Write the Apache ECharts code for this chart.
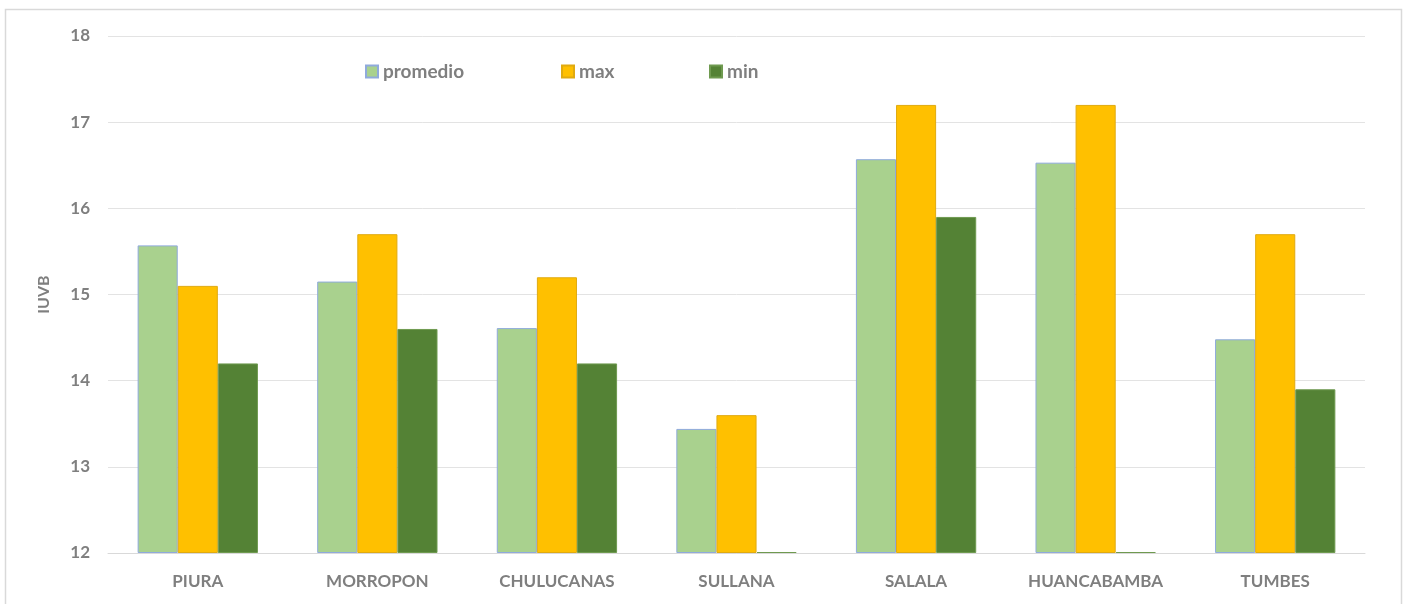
<!DOCTYPE html>
<html>
<head>
<meta charset="utf-8">
<script src="https://cdn.jsdelivr.net/npm/echarts@6/dist/echarts.min.js"></script>
<style>
  html, body { margin: 0; padding: 0; background: #ffffff; }
  #chart { width: 1411px; height: 604px; }
</style>
</head>
<body>
<div id="chart"></div>
<script>
// Stations and their UV-B index values
const categories = ['PIURA', 'MORROPON', 'CHULUCANAS', 'SULLANA', 'SALALA', 'HUANCABAMBA', 'TUMBES'];
const promedio = [15.57, 15.15, 14.61, 13.44, 16.57, 16.53, 14.48];
const maxVals  = [15.1, 15.7, 15.2, 13.6, 17.2, 17.2, 15.7];
const minVals  = [14.2, 14.6, 14.2, 12, 15.9, 12, 13.9];
const yTicks   = [12, 13, 14, 15, 16, 17, 18];

const yMin = yTicks[0];
const yMax = yTicks[yTicks.length - 1];

const textColor = '#7f7f7f';
const fontFamily = 'Lato, "Liberation Sans", sans-serif';

const chart = echarts.init(document.getElementById('chart'));

function legendAt(name, left) {
  return {
    data: [name],
    left: left,
    top: 57,
    icon: 'rect',
    itemWidth: 12,
    itemHeight: 12,
    itemGap: 0,
    textStyle: { color: textColor, fontSize: 19, fontWeight: 'bold', fontFamily: fontFamily, padding: [0, 0, 0, 0] },
    selectedMode: false
  };
}

// Bars rise from the bottom of the axis (yMin): each series sits on an
// invisible base of yMin in its own stack, so values at yMin show as a flat bar.
function barPair(name, values, fill, border) {
  const stack = 's_' + name;
  return [
    {
      name: '_base_' + name,
      type: 'bar',
      stack: stack,
      data: values.map(() => yMin),
      itemStyle: { color: 'rgba(0,0,0,0)' },
      silent: true,
      barGap: '0%',
      barCategoryGap: '33%'
    },
    {
      name: name,
      type: 'bar',
      stack: stack,
      data: values.map(v => +(v - yMin).toFixed(4)),
      barMinHeight: 1,
      clip: false,
      itemStyle: { color: fill, borderColor: border, borderWidth: 1 }
    }
  ];
}

chart.setOption({
  animation: false,
  backgroundColor: '#ffffff',
  graphic: [{
    type: 'rect',
    shape: { x: 5.5, y: 9.5, width: 1396, height: 620 },
    style: { fill: 'none', stroke: '#d9d9d9', lineWidth: 1.5 },
    silent: true,
    z: -10
  }],
  legend: [
    legendAt('promedio', 360),
    legendAt('max', 556),
    legendAt('min', 704)
  ],
  grid: { left: 108, right: 46, top: 36, bottom: 51 },
  xAxis: {
    type: 'category',
    data: categories,
    axisLine: { lineStyle: { color: '#d9d9d9', width: 1 } },
    axisTick: { show: false },
    axisLabel: { color: textColor, fontSize: 17, fontWeight: 'bold', fontFamily: fontFamily, margin: 20 }
  },
  yAxis: {
    type: 'value',
    min: yMin,
    max: yMax,
    interval: 1,
    name: 'IUVB',
    nameLocation: 'middle',
    nameGap: 56,
    nameTextStyle: { color: textColor, fontSize: 16, fontWeight: 'bold', fontFamily: fontFamily },
    axisLine: { show: false },
    axisTick: { show: false },
    axisLabel: { color: textColor, fontSize: 17, fontWeight: 'bold', fontFamily: fontFamily, margin: 18 },
    splitLine: { lineStyle: { color: '#e3e3e3', width: 1 } }
  },
  series: [].concat(
    barPair('promedio', promedio, '#a9d18e', '#8faadc'),
    barPair('max', maxVals, '#ffc000', '#e0aa10'),
    barPair('min', minVals, '#548235', '#6f9a50')
  )
});
</script>
</body>
</html>
